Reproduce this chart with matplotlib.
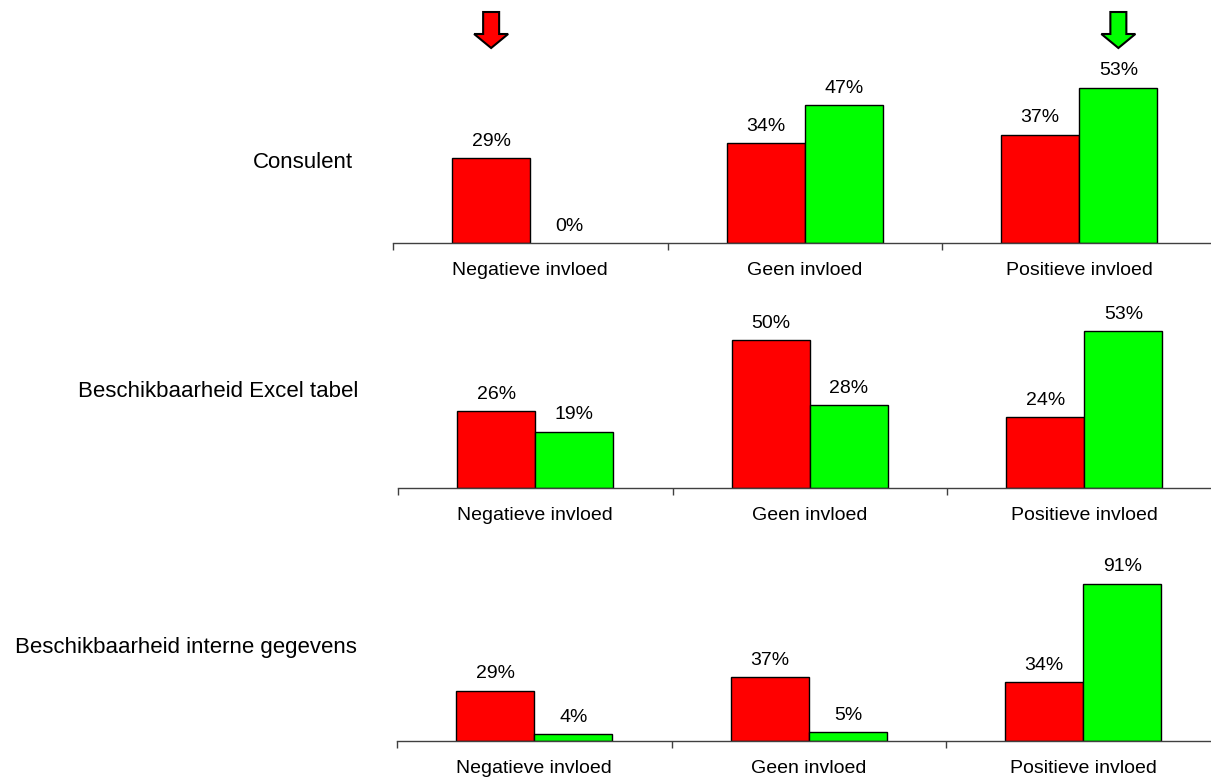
import matplotlib.pyplot as plt
from matplotlib.patches import FancyArrow

plt.rcParams["font.family"] = ["Liberation Sans", "DejaVu Sans"]

# =========================
# Data
# =========================

ROW_LABELS = ["Consulent", "Beschikbaarheid Excel tabel", "Beschikbaarheid interne gegevens"]
CATEGORIES = ["Negatieve invloed", "Geen invloed", "Positieve invloed"]

RED_VALUES = [
    [29, 34, 37],
    [26, 50, 24],
    [29, 37, 34],
]
GREEN_VALUES = [
    [0, 47, 53],
    [19, 28, 53],
    [4, 5, 91],
]

RED = "#ff0000"
GREEN = "#00ff00"

W, H = 1211, 781

# pixel layout per panel: (left, baseline, pixels per unit, ymax)
PANELS = [
    (393, 243, 2.93, 60),
    (398, 488, 2.96, 60),
    (397, 741, 1.73, 100),
]
# row label height above the baseline, in pixels
ROW_LABEL_PX = [81, 96, 93]
GROUP_PX = 274.5
BAR_W = 0.285


def main():
    fig = plt.figure(figsize=(W / 100, H / 100), dpi=100)

    axes = []
    for i, (left, base, ppu, ymax) in enumerate(PANELS):
        height = ppu * ymax
        ax = fig.add_axes([left / W, 1 - base / H, 3 * GROUP_PX / W, height / H])
        axes.append(ax)

        x = [k + 0.5 for k in range(len(CATEGORIES))]
        red_x = [v - BAR_W / 2 for v in x]
        green_x = [v + BAR_W / 2 for v in x]

        bars_r = ax.bar(red_x, RED_VALUES[i], width=BAR_W, color=RED,
                        edgecolor="black", linewidth=1)
        bars_g = ax.bar(green_x, GREEN_VALUES[i], width=BAR_W, color=GREEN,
                        edgecolor="black", linewidth=1)

        for bars, vals in ((bars_r, RED_VALUES[i]), (bars_g, GREEN_VALUES[i])):
            for b, v in zip(bars, vals):
                if v == 0:
                    b.set_linewidth(0)
                ax.annotate(f"{v}%", (b.get_x() + b.get_width() / 2, v),
                            xytext=(0, 6), textcoords="offset points",
                            ha="center", va="bottom", fontsize=14)

        ax.set_xlim(0, 3)
        ax.set_ylim(0, ymax)
        ax.set_xticks([0, 1, 2, 3])
        ax.set_xticklabels([])
        ax.set_xticks(x, minor=True)
        ax.set_xticklabels(CATEGORIES, minor=True, fontsize=14)
        ax.tick_params(axis="x", which="major", direction="out", length=5,
                       width=1, color="#404040")
        ax.tick_params(axis="x", which="minor", length=0, pad=14)
        ax.set_yticks([])
        for side in ("top", "right", "left"):
            ax.spines[side].set_visible(False)
        ax.spines["bottom"].set_color("#404040")
        ax.spines["bottom"].set_linewidth(1)

        ax.text(-40 / (3 * GROUP_PX), ROW_LABEL_PX[i] / height, ROW_LABELS[i],
                transform=ax.transAxes, ha="right", va="center", fontsize=16)

    # arrows above first panel
    ax = axes[0]
    ppu = PANELS[0][2]
    for bx, col in ((0.5 - BAR_W / 2, RED), (2.5 + BAR_W / 2, GREEN)):
        arr = FancyArrow(bx, 231 / ppu, 0, -36 / ppu, width=16 / GROUP_PX,
                         head_width=34 / GROUP_PX, head_length=14 / ppu,
                         length_includes_head=True, facecolor=col,
                         edgecolor="black", linewidth=1.5, clip_on=False)
        ax.add_patch(arr)

    fig.savefig("out.png", dpi=100)
    plt.close(fig)


if __name__ == "__main__":
    main()
